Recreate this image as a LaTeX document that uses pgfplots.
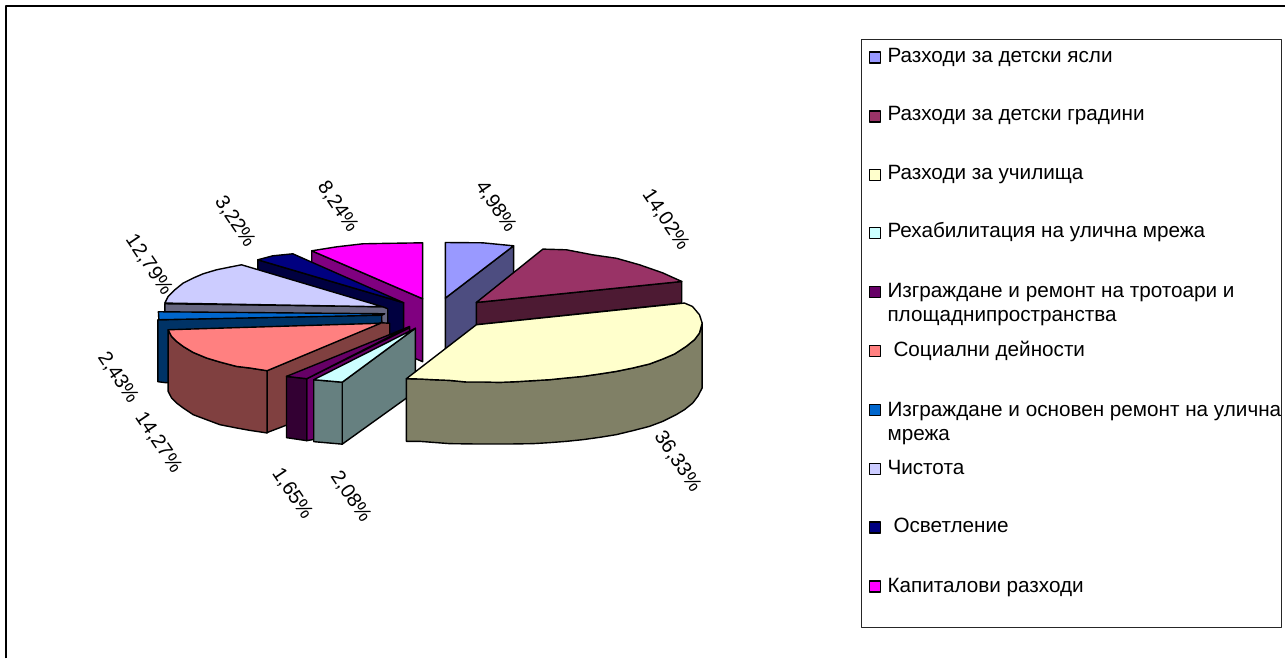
\documentclass[border=0pt]{standalone}
\usepackage{pgfplots}
\pgfplotsset{compat=1.18}
\usepackage{fontspec}
\setmainfont{Liberation Sans}
\definecolor{cA}{HTML}{9999FF}\definecolor{cAs}{HTML}{4D4D80}
\definecolor{cB}{HTML}{993366}\definecolor{cBs}{HTML}{4D1A33}
\definecolor{cC}{HTML}{FFFFCC}\definecolor{cCs}{HTML}{808066}
\definecolor{cD}{HTML}{CCFFFF}\definecolor{cDs}{HTML}{668080}
\definecolor{cE}{HTML}{660066}\definecolor{cEs}{HTML}{330033}
\definecolor{cF}{HTML}{FF8080}\definecolor{cFs}{HTML}{804040}
\definecolor{cG}{HTML}{0066CC}\definecolor{cGs}{HTML}{003366}
\definecolor{cH}{HTML}{CCCCFF}\definecolor{cHs}{HTML}{666680}
\definecolor{cI}{HTML}{000080}\definecolor{cIs}{HTML}{000040}
\definecolor{cJ}{HTML}{FF00FF}\definecolor{cJs}{HTML}{800080}
\newcommand{\lab}[3]{\node[rotate=-56,inner sep=0pt,font=\fontsize{20}{20}\selectfont] at (axis cs:#1,#2) {#3};}
\newcommand{\leg}[3]{\node[anchor=base west,inner sep=0pt,font=\fontsize{20.7}{20.7}\selectfont] at (axis cs:#1,#2) {#3};}
\newcommand{\sq}[3]{\addplot[fill=#3,draw=black,line width=1.2pt] coordinates {(870,#1) (881,#1) (881,#2) (870,#2)} --cycle;}
\begin{document}
\begin{tikzpicture}
\begin{axis}[width=1286pt,height=659pt,scale only axis,xmin=0,xmax=1286,ymin=0,ymax=659,y dir=reverse,
  axis lines=none,clip=false,every axis plot/.append style={line width=1.4pt,line join=round}]
% page extent
\addplot[draw=none] coordinates {(0,0) (1286,659)};
% frame
\addplot[draw=black,line width=2pt] coordinates {(6,659) (6,5.7) (1286,5.7)};
% magenta
\addplot[fill=cJs,draw=black] coordinates {(312,251) (423,299) (423,362) (312,314)} --cycle;
\addplot[fill=cJ,draw=black] coordinates {(312,251) (337,247) (363,244) (390,243.5) (423,243) (423,299)} --cycle;
% navy
\addplot[fill=cIs,draw=black] coordinates {(258,260) (404,303) (404,365) (258,322)} --cycle;
\addplot[fill=cI,draw=black] coordinates {(258,260) (273,256) (293,254) (404,303)} --cycle;
% lavender
\addplot[fill=cHs,draw=black] coordinates {(165,304) (383,307) (388,309) (388,370) (165,366)} --cycle;
\addplot[fill=cH,draw=black] coordinates {(165,303.3) (168.3,296.7) (175,290) (183.3,283.3) (193.3,278.3) (203.3,274) (216.7,270) (230,267.3) (241.7,265) (383,307)} --cycle;
% blue
\addplot[fill=cGs,draw=black] coordinates {(158,320) (382,315) (383,378) (166,383) (158,382)} --cycle;
\addplot[fill=cG,draw=black] coordinates {(158.5,312) (385,314) (382,315.5) (159,320)} --cycle;
% pink
\addplot[fill=cFs,draw=black] coordinates {(267,371) (381,323) (390,323.5) (390,386) (267,433)} --cycle;
\addplot[fill=cFs,draw=black] coordinates {(168.3,330) (168.3,391.7) (171.7,398.3) (176.7,403.3) (183.3,408.3) (193.3,415) (206.7,420) (220,425) (236.7,428.3) (250,430.7) (267.3,433.3) (267.3,371) (250,368.3) (236.7,366.7) (220,362.3) (206.7,358.3) (193.3,352.7) (183.3,346.7) (176.7,341.7) (171.7,336.7)} --cycle;
\addplot[fill=cF,draw=black] coordinates {(168.3,330) (171.7,336.7) (176.7,341.7) (183.3,346.7) (193.3,352.7) (206.7,358.3) (220,362.3) (236.7,366.7) (250,368.3) (267.3,371) (381,323.5)} --cycle;
% dark purple
\addplot[fill=cE,draw=black] coordinates {(307,379) (410,328) (410,390) (313,440) (307,441)} --cycle;
\addplot[fill=cEs,draw=black] coordinates {(286.7,376.7) (307,379) (307,441) (286.7,438)} --cycle;
\addplot[fill=cE,draw=black] coordinates {(286.7,376.7) (307,379) (410,326.7)} --cycle;
% cyan
\addplot[fill=cDs,draw=black] coordinates {(342.5,382.5) (415.7,328.5) (415.7,392) (342.5,444.5)} --cycle;
\addplot[fill=cDs,draw=black] coordinates {(314,380) (342.5,382.5) (342.5,444.5) (314,442)} --cycle;
\addplot[fill=cD,draw=black] coordinates {(314,380) (342.5,382.5) (415.7,328.5)} --cycle;
% periwinkle
\addplot[fill=cAs,draw=black] coordinates {(445.7,298.3) (514,246) (514,308) (445.7,360)} --cycle;
\addplot[fill=cA,draw=black] coordinates {(445.7,242.7) (483,243) (514,246) (445.7,298.3)} --cycle;
% maroon
\addplot[fill=cBs,draw=black] coordinates {(476.7,302.7) (682.3,281.7) (682.3,303.3) (476.7,325)} --cycle;
\addplot[fill=cB,draw=black] coordinates {(476.7,302.7) (543.3,249.3) (567,250) (593,255) (617,258.5) (640,265) (663,273) (682.3,281.7)} --cycle;
% yellow
\addplot[fill=cCs,draw=black] coordinates {(702.7,323.3) (702.7,388.3) (698.3,396.7) (693.3,403.3) (685,410) (676.7,415) (663.3,421.7) (650,426.7) (633.3,431) (616.7,435) (600,437.7) (583.3,440) (566.7,441.7) (550,443) (533.3,444) (513.3,444.3) (493.3,444.3) (473.3,444.3) (450,444) (433.3,442.7) (420,441.7) (406.7,441.7) (406.7,379) (420,379.3) (433.3,380) (450,380.7) (466.7,382.3) (483.3,382.3) (500,382.7) (516.7,382) (533.3,381) (550,380) (566.7,378.3) (583.3,376.7) (600,374.3) (616.7,371.7) (633.3,368.3) (650,364.3) (663.3,359.3) (675,354.3) (686.7,346.7) (695,340) (700,333.3)} --cycle;
\addplot[fill=cC,draw=black] coordinates {(406.7,379) (476.7,325) (685,303.3) (693,306.7) (700,315) (702.7,323.3) (700,333.3) (695,340) (686.7,346.7) (675,354.3) (663.3,359.3) (650,364.3) (633.3,368.3) (616.7,371.7) (600,374.3) (583.3,376.7) (566.7,378.3) (550,380) (533.3,381) (516.7,382) (500,382.7) (483.3,382.3) (466.7,382.3) (450,380.7) (433.3,380) (420,379.3)} --cycle;
% legend box
\addplot[fill=white,draw=black!85,line width=0.8pt] coordinates {(861.7,39) (1282.3,39) (1282.3,627.5) (861.7,627.5)} --cycle;
\sq{52}{63}{cA}
\sq{111}{122}{cB}
\sq{169.5}{180.5}{cC}
\sq{228}{239}{cD}
\sq{287}{298}{cE}
\sq{346}{357}{cF}
\sq{405}{416}{cG}
\sq{464}{475}{cH}
\sq{522.5}{533.5}{cI}
\sq{581.5}{592.5}{cJ}
\leg{888}{62.7}{Разходи за детски ясли}
\leg{888}{120.7}{Разходи за детски градини}
\leg{888}{180}{Разходи за училища}
\leg{888}{238}{Рехабилитация на улична мрежа}
\leg{888}{298}{Изграждане и ремонт на тротоари и}
\leg{888}{322}{площаднипространства}
\leg{894}{357}{Социални дейности}
\leg{888}{416.7}{Изграждане и основен ремонт на улична}
\leg{888}{440.7}{мрежа}
\leg{888}{475}{Чистота}
\leg{894}{533}{Осветление}
\leg{888}{592.7}{Капиталови разходи}
\lab{496}{206.7}{4,98\%}
\lab{666}{220}{14,02\%}
\lab{678}{462}{36,33\%}
\lab{351}{497}{2,08\%}
\lab{292.5}{494}{1,65\%}
\lab{158.5}{443}{14,27\%}
\lab{118}{378}{2,43\%}
\lab{149}{265}{12,79\%}
\lab{235}{221.7}{3,22\%}
\lab{338}{206.7}{8,24\%}
\end{axis}
\end{tikzpicture}
\end{document}
